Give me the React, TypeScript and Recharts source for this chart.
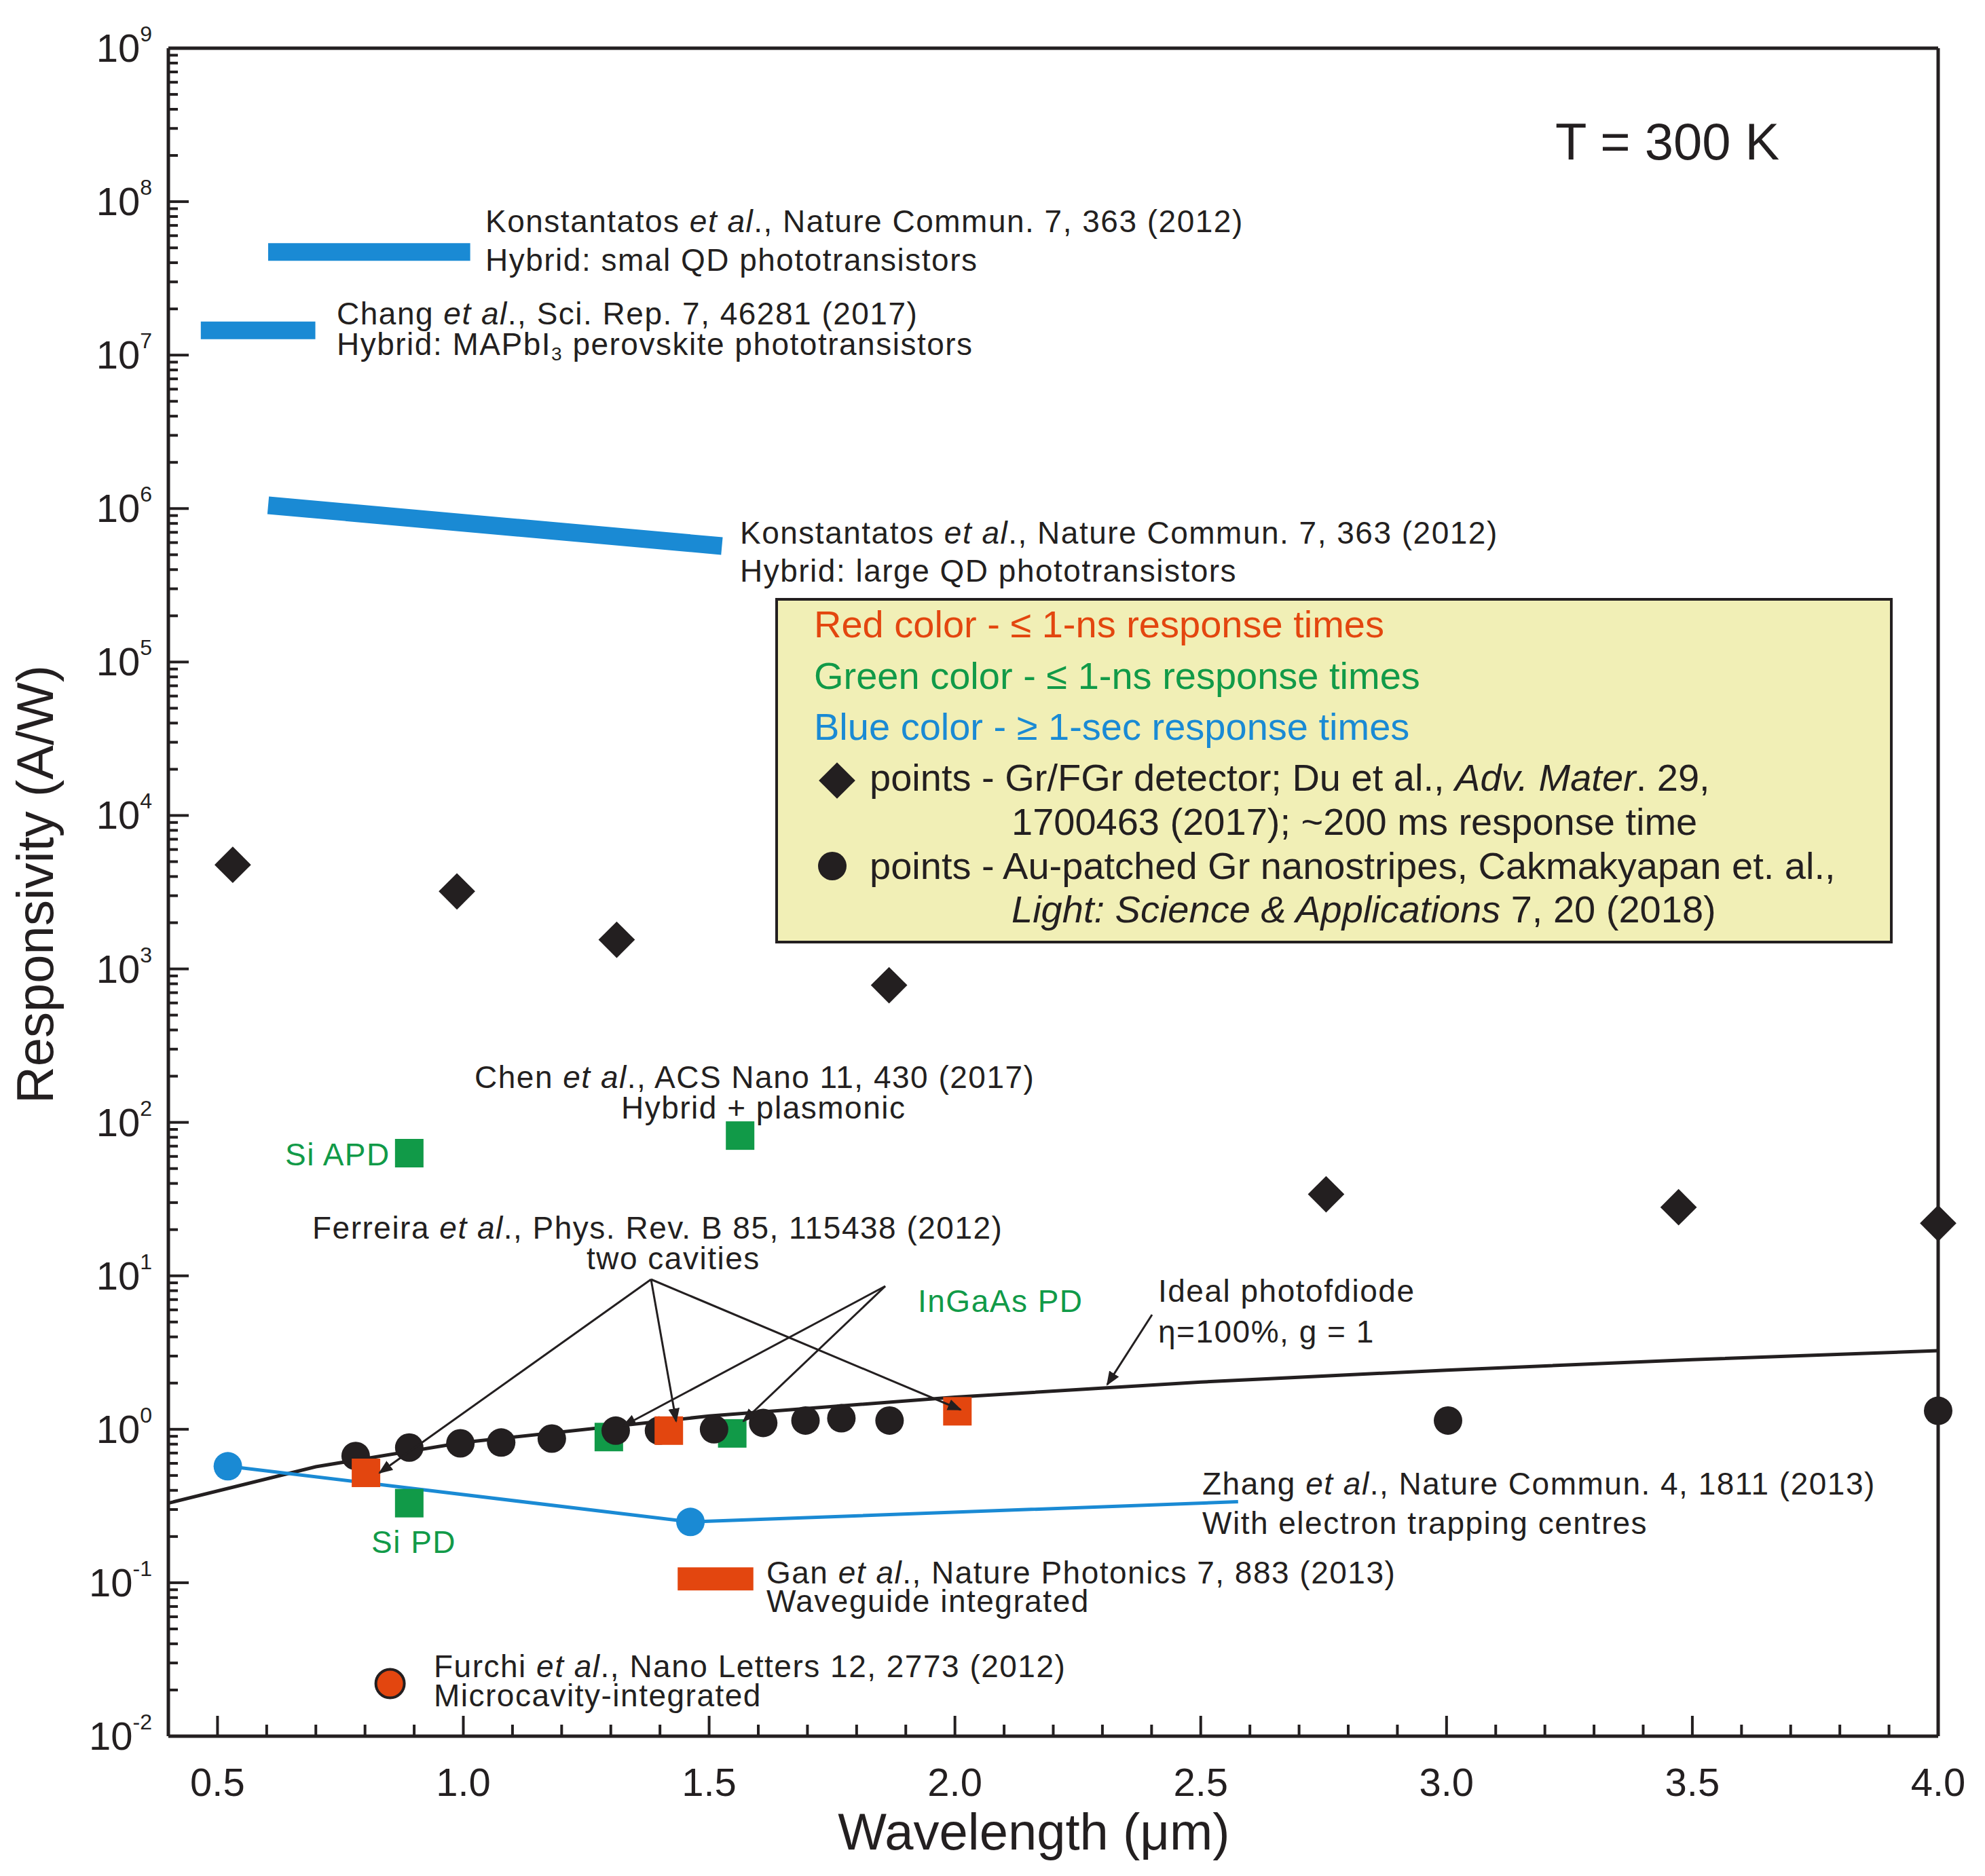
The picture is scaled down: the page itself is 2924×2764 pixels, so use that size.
import React from "react";
import { ComposedChart, Scatter, XAxis, YAxis } from "recharts";

// ---- data (wavelength in µm, responsivity in A/W) ----
const duDiamonds = [
  { x: 0.531, y: 4770 }, { x: 0.987, y: 3200 }, { x: 1.312, y: 1550 }, { x: 1.866, y: 783 },
  { x: 2.755, y: 34 }, { x: 3.472, y: 28 }, { x: 4.0, y: 22 },
];
const auCircles = [
  { x: 0.781, y: 0.67 }, { x: 0.89, y: 0.76 }, { x: 0.994, y: 0.81 }, { x: 1.077, y: 0.82 },
  { x: 1.18, y: 0.87 }, { x: 1.31, y: 0.98 }, { x: 1.398, y: 0.98 }, { x: 1.51, y: 1.0 },
  { x: 1.61, y: 1.1 }, { x: 1.696, y: 1.14 }, { x: 1.769, y: 1.18 }, { x: 1.867, y: 1.14 },
  { x: 3.003, y: 1.14 }, { x: 4.0, y: 1.32 },
];
const redSquares = [{ x: 0.802, y: 0.52 }, { x: 1.418, y: 0.98 }, { x: 2.005, y: 1.31 }];
const redCircle = [{ x: 0.851, y: 0.022 }];
const ganBar = [{ x: 1.436, y: 0.106 }, { x: 1.59, y: 0.106 }];
const greenSquares = [
  { x: 0.89, y: 63 }, { x: 1.563, y: 82 }, { x: 1.296, y: 0.89 }, { x: 1.547, y: 0.94 }, { x: 0.89, y: 0.33 },
];
const zhangLine = [{ x: 0.521, y: 0.574 }, { x: 1.462, y: 0.249 }, { x: 2.576, y: 0.337 }];
const zhangDots = [{ x: 0.521, y: 0.574 }, { x: 1.462, y: 0.249 }];
const smallQD = [{ x: 0.603, y: 4.7e7 }, { x: 1.014, y: 4.7e7 }];
const changBar = [{ x: 0.466, y: 1.45e7 }, { x: 0.699, y: 1.45e7 }];
const largeQD = [{ x: 0.603, y: 1.05e6 }, { x: 1.526, y: 5.7e5 }];
const idealPD = [
  { x: 0.4, y: 0.33 }, { x: 0.7, y: 0.57 }, { x: 1.0, y: 0.82 }, { x: 1.5, y: 1.22 }, { x: 2.0, y: 1.62 },
  { x: 2.5, y: 2.03 }, { x: 3.0, y: 2.43 }, { x: 3.5, y: 2.84 }, { x: 4.0, y: 3.25 },
];

const xMajor = [0.5, 1.0, 1.5, 2.0, 2.5, 3.0, 3.5, 4.0];
const xTicks: number[] = [];
for (let i = 4; i <= 40; i++) xTicks.push(i / 10);
const yMajorExp = [-2, -1, 0, 1, 2, 3, 4, 5, 6, 7, 8, 9];
const yTicks: number[] = [];
yMajorExp.forEach((e) => {
  for (let m = 1; m <= 9; m++) if (e < 9 || m === 1) yTicks.push(m * Math.pow(10, e));
});

const RED = "#e3460f";
const GREEN = "#119a48";
const BLUE = "#1a8ad4";
const INK = "#231f20";
const FONT = "'Liberation Sans', Arial, sans-serif";

const W = 2924, H = 2764;
const L = 248, T = 71, R = 2855, B = 2558;

const isMajorX = (v: number) => xMajor.some((m) => Math.abs(m - v) < 1e-6);
const isMajorY = (v: number) => yMajorExp.some((e) => Math.abs(Math.log10(v) - e) < 1e-6);

const BottomTick = ({ x, y, payload }: any) => {
  const maj = isMajorX(payload.value);
  return (
    <g>
      <line x1={x} x2={x} y1={y} y2={y - (maj ? 30 : 17)} stroke={INK} strokeWidth={4} />
      {maj && (
        <text x={x} y={y + 88} textAnchor="middle" fontSize={58} fill={INK} fontFamily={FONT}>
          {payload.value.toFixed(1)}
        </text>
      )}
    </g>
  );
};
const TopTick = ({ x, y, payload }: any) => {
  const maj = isMajorX(payload.value);
  return <line x1={x} x2={x} y1={y} y2={y + (maj ? 30 : 17)} stroke={INK} strokeWidth={4} />;
};
const LeftTick = ({ x, y, payload }: any) => {
  const maj = isMajorY(payload.value);
  const e = Math.round(Math.log10(payload.value));
  return (
    <g>
      <line x1={x} x2={x + (maj ? 30 : 14)} y1={y} y2={y} stroke={INK} strokeWidth={4} />
      {maj && (
        <text x={x - 24} y={y + 20} textAnchor="end" fontSize={58} fill={INK} fontFamily={FONT}>
          10<tspan dy={-30} fontSize={32}>{e}</tspan>
        </text>
      )}
    </g>
  );
};
const RightTick = ({ x, y, payload }: any) => {
  const maj = isMajorY(payload.value);
  return <line x1={x} x2={x - (maj ? 30 : 14)} y1={y} y2={y} stroke={INK} strokeWidth={4} />;
};

const Diamond = ({ cx, cy }: any) => (
  <rect x={cx - 19} y={cy - 19} width={38} height={38} fill={INK} transform={`rotate(45 ${cx} ${cy})`} />
);
const BlackDot = ({ cx, cy }: any) => <circle cx={cx} cy={cy} r={21} fill={INK} />;
const Square = (color: string) => ({ cx, cy }: any) => (
  <rect x={cx - 21} y={cy - 21} width={42} height={42} fill={color} />
);
const Ring = (color: string) => ({ cx, cy }: any) => (
  <circle cx={cx} cy={cy} r={21} fill={color} stroke={INK} strokeWidth={4} />
);
const BlueDot = ({ cx, cy }: any) => <circle cx={cx} cy={cy} r={21} fill={BLUE} />;
const None = () => null;

const Txt = ({ x, y, children, color = INK, size = 46, ls = 1.5 }: any) => (
  <text x={x} y={y} fontSize={size} fill={color} fontFamily={FONT} letterSpacing={ls}>{children}</text>
);
const I = ({ children }: any) => <tspan fontStyle="italic">{children}</tspan>;

const axisStyle = { stroke: INK, strokeWidth: 5 };

export default function App() {
  return (
    <div style={{ position: "absolute", left: 0, top: 0, width: W, height: H, background: "#fff" }}>
      <ComposedChart width={W} height={H} margin={{ top: T - 1, right: W - R - 1, left: L - 1, bottom: H - B - 1 }}>
        <XAxis xAxisId="b" type="number" dataKey="x" domain={[0.4, 4.0]} ticks={xTicks} interval={0}
          height={1} tickSize={0} tickMargin={0} tickLine={false} axisLine={axisStyle} tick={<BottomTick />} />
        <XAxis xAxisId="t" orientation="top" type="number" dataKey="x" domain={[0.4, 4.0]} ticks={xTicks}
          interval={0} height={1} tickSize={0} tickMargin={0} tickLine={false} axisLine={axisStyle} tick={<TopTick />} />
        <YAxis yAxisId="l" type="number" dataKey="y" scale="log" domain={[0.01, 1e9]} ticks={yTicks}
          interval={0} width={1} tickSize={0} tickMargin={0} tickLine={false} axisLine={axisStyle} tick={<LeftTick />} />
        <YAxis yAxisId="r" orientation="right" type="number" dataKey="y" scale="log" domain={[0.01, 1e9]}
          ticks={yTicks} interval={0} width={1} tickSize={0} tickMargin={0} tickLine={false} axisLine={axisStyle} tick={<RightTick />} />

        <Scatter xAxisId="b" yAxisId="l" data={idealPD} line={{ stroke: INK, strokeWidth: 5 }} shape={<None />} isAnimationActive={false} />
        <Scatter xAxisId="b" yAxisId="l" data={smallQD} line={{ stroke: BLUE, strokeWidth: 26 }} shape={<None />} isAnimationActive={false} />
        <Scatter xAxisId="b" yAxisId="l" data={changBar} line={{ stroke: BLUE, strokeWidth: 26 }} shape={<None />} isAnimationActive={false} />
        <Scatter xAxisId="b" yAxisId="l" data={largeQD} line={{ stroke: BLUE, strokeWidth: 26 }} shape={<None />} isAnimationActive={false} />
        <Scatter xAxisId="b" yAxisId="l" data={ganBar} line={{ stroke: RED, strokeWidth: 34 }} shape={<None />} isAnimationActive={false} />
        <Scatter xAxisId="b" yAxisId="l" data={zhangLine} line={{ stroke: BLUE, strokeWidth: 5 }} shape={<None />} isAnimationActive={false} />
        <Scatter xAxisId="b" yAxisId="l" data={zhangDots} shape={<BlueDot />} isAnimationActive={false} />
        <Scatter xAxisId="b" yAxisId="l" data={duDiamonds} shape={<Diamond />} isAnimationActive={false} />
        <Scatter xAxisId="b" yAxisId="l" data={greenSquares} shape={Square(GREEN)} isAnimationActive={false} />
        <Scatter xAxisId="b" yAxisId="l" data={auCircles} shape={<BlackDot />} isAnimationActive={false} />
        <Scatter xAxisId="b" yAxisId="l" data={redSquares} shape={Square(RED)} isAnimationActive={false} />
        <Scatter xAxisId="b" yAxisId="l" data={redCircle} shape={Ring(RED)} isAnimationActive={false} />
      </ComposedChart>

      <svg width={W} height={H} style={{ position: "absolute", left: 0, top: 0, pointerEvents: "none" }}>
        <defs>
          <marker id="ah" viewBox="0 0 10 10" refX="9" refY="5" markerWidth="7" markerHeight="7" orient="auto">
            <path d="M0,1 L10,5 L0,9 z" fill={INK} />
          </marker>
        </defs>
        <text x={2291} y={235} fontSize={76} fill={INK} fontFamily={FONT}>T = 300 K</text>
        <text x={1523} y={2725} fontSize={76} textAnchor="middle" fill={INK} fontFamily={FONT}>Wavelength (μm)</text>
        <text transform="translate(78 1303) rotate(-90)" fontSize={76} textAnchor="middle" fill={INK} fontFamily={FONT}>Responsivity (A/W)</text>

        <Txt x={715} y={342}>Konstantatos <I>et al</I>., Nature Commun. 7, 363 (2012)</Txt>
        <Txt x={715} y={399}>Hybrid: smal QD phototransistors</Txt>
        <Txt x={496} y={478}>Chang <I>et al</I>., Sci. Rep. 7, 46281 (2017)</Txt>
        <Txt x={496} y={523}>Hybrid: MAPbI<tspan fontSize={28} dy={8}>3</tspan><tspan dy={-8}> perovskite phototransistors</tspan></Txt>
        <Txt x={1090} y={801}>Konstantatos <I>et al</I>., Nature Commun. 7, 363 (2012)</Txt>
        <Txt x={1090} y={857}>Hybrid: large QD phototransistors</Txt>

        <rect x={1144} y={883} width={1642} height={505} fill="#f1efb6" stroke={INK} strokeWidth={4} />
        <Txt x={1199} y={939} size={56} ls={0} color={RED}>Red color - ≤ 1-ns response times</Txt>
        <Txt x={1199} y={1015} size={56} ls={0} color={GREEN}>Green color - ≤ 1-ns response times</Txt>
        <Txt x={1199} y={1090} size={56} ls={0} color={BLUE}>Blue color - ≥ 1-sec response times</Txt>
        <rect x={1214} y={1131} width={38} height={38} fill={INK} transform="rotate(45 1233 1150)" />
        <Txt x={1281} y={1165} size={56} ls={0}>points - Gr/FGr detector; Du et al., <I>Adv. Mater</I>. 29,</Txt>
        <Txt x={1490} y={1230} size={56} ls={0}>1700463 (2017); ~200 ms response time</Txt>
        <circle cx={1226} cy={1276} r={21} fill={INK} />
        <Txt x={1281} y={1295} size={56} ls={0}>points - Au-patched Gr nanostripes, Cakmakyapan et. al.,</Txt>
        <Txt x={1490} y={1359} size={56} ls={0}><I>Light: Science &amp; Applications</I> 7, 20 (2018)</Txt>

        <Txt x={699} y={1603}>Chen <I>et al</I>., ACS Nano 11, 430 (2017)</Txt>
        <Txt x={915} y={1648}>Hybrid + plasmonic</Txt>
        <Txt x={420} y={1717} color={GREEN}>Si APD</Txt>
        <Txt x={460} y={1825}>Ferreira <I>et al</I>., Phys. Rev. B 85, 115438 (2012)</Txt>
        <Txt x={864} y={1870}>two cavities</Txt>
        <Txt x={1352} y={1933} color={GREEN}>InGaAs PD</Txt>
        <Txt x={1706} y={1918}>Ideal photofdiode</Txt>
        <Txt x={1706} y={1978}>η=100%, g = 1</Txt>
        <Txt x={1771} y={2202}>Zhang <I>et al</I>., Nature Commun. 4, 1811 (2013)</Txt>
        <Txt x={1771} y={2260}>With electron trapping centres</Txt>
        <Txt x={547} y={2288} color={GREEN}>Si PD</Txt>
        <Txt x={1129} y={2333}>Gan <I>et al</I>., Nature Photonics 7, 883 (2013)</Txt>
        <Txt x={1129} y={2375}>Waveguide integrated</Txt>
        <Txt x={639} y={2471}>Furchi <I>et al</I>., Nano Letters 12, 2773 (2012)</Txt>
        <Txt x={639} y={2514}>Microcavity-integrated</Txt>

        {[[559, 2170], [996, 2094], [1415, 2077]].map(([x2, y2], i) => (
          <line key={"f" + i} x1={959} y1={1885} x2={x2} y2={y2} stroke={INK} strokeWidth={3} markerEnd="url(#ah)" />
        ))}
        {[[918, 2101], [1095, 2094]].map(([x2, y2], i) => (
          <line key={"g" + i} x1={1304} y1={1895} x2={x2} y2={y2} stroke={INK} strokeWidth={3} markerEnd="url(#ah)" />
        ))}
        <line x1={1697} y1={1937} x2={1631} y2={2040} stroke={INK} strokeWidth={3} markerEnd="url(#ah)" />
      </svg>
    </div>
  );
}
